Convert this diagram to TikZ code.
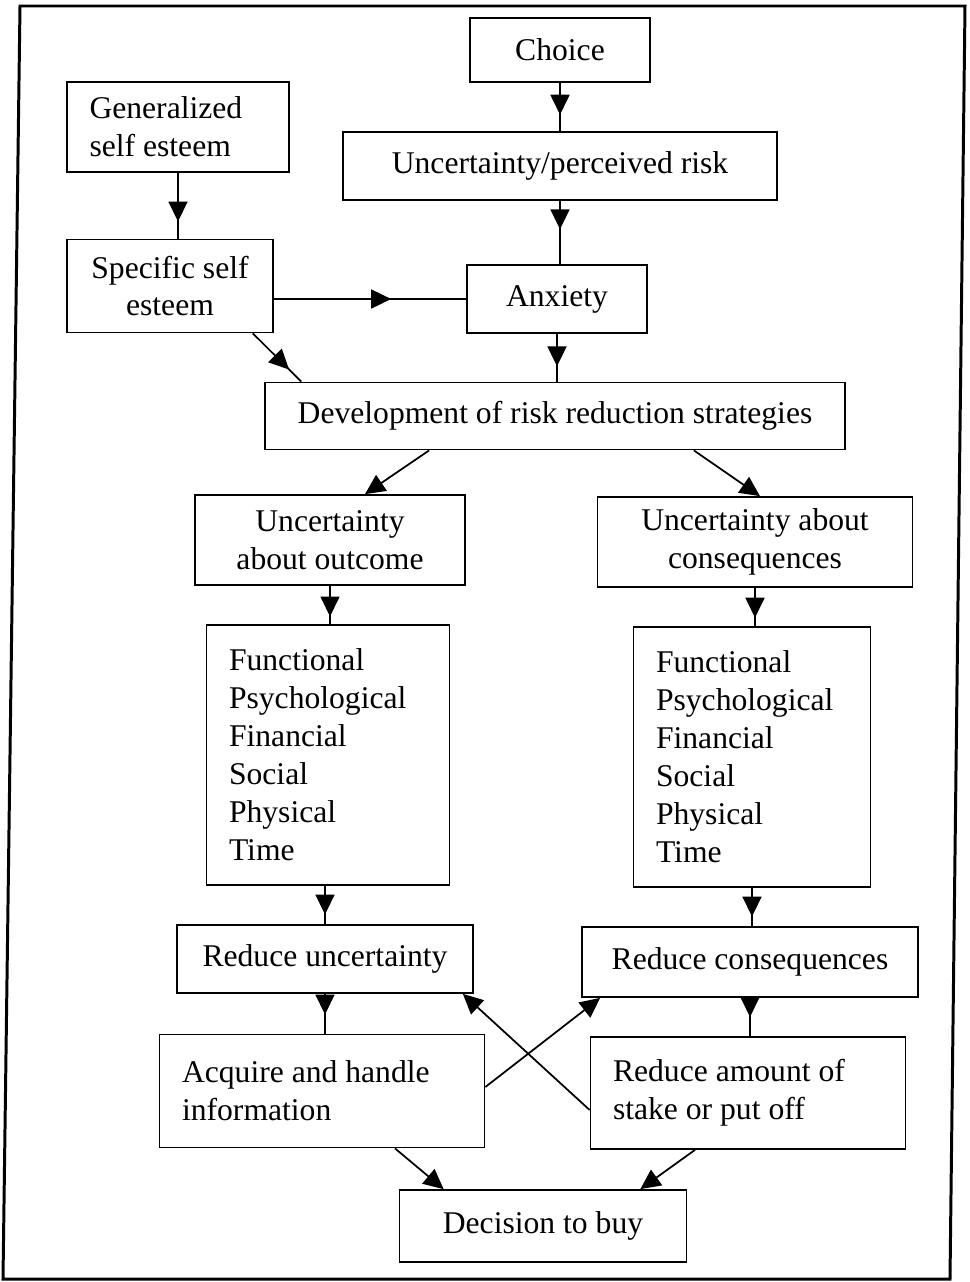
\documentclass[tikz,border=0pt]{standalone}
\usepackage{fontspec}
\setmainfont{Liberation Serif}
\usetikzlibrary{arrows.meta,decorations.markings}

\begin{document}
\begin{tikzpicture}[x=0.02cm,y=-0.02cm,line width=1pt,
    box/.style={rectangle,draw,font=\fontsize{18}{21.6}\selectfont,align=center,inner sep=0pt},
    listbox/.style={box,align=flush left,inner xsep=0.45cm,text width=#1},
    tip/.style={-{Triangle[length=0.4cm,width=0.38cm]}},
    midarrow/.style={postaction={decorate},decoration={markings,mark=at position #1 with {\arrow{Triangle[length=0.4cm,width=0.38cm]}}}}]
    \useasboundingbox (0,0) rectangle (970,1282);
    \draw[line width=1.7pt] (20,6) -- (965,6) -- (950,1279) -- (3,1279) -- cycle;

    % top part
    \node[box,minimum width=3.6cm,minimum height=1.28cm] (choice) at (560,50) {Choice};
    \node[box,minimum width=8.68cm,minimum height=1.36cm] (risk) at (560,166) {Uncertainty/perceived risk};
    \node[listbox=3.54cm,minimum height=1.8cm] (general) at (178,127) {Generalized\\self esteem};
    \node[box,minimum width=4.12cm,minimum height=1.86cm] (specific) at (170,286) {Specific self\\esteem};
    \node[box,minimum width=3.6cm,minimum height=1.36cm] (anxiety) at (557,299) {Anxiety};
    \node[box,minimum width=11.6cm,minimum height=1.34cm] (develop) at (555,416) {Development of risk reduction strategies};

    % two branches
    \node[box,minimum width=5.4cm,minimum height=1.8cm] (outcome) at (330,540) {Uncertainty\\about outcome};
    \node[box,minimum width=6.3cm,minimum height=1.8cm] (conseq) at (755,542) {Uncertainty about\\consequences};
    \node[listbox=3.96cm,minimum height=5.2cm] (typesL) at (328,755) {Functional\\Psychological\\Financial\\Social\\Physical\\Time};
    \node[listbox=3.84cm,minimum height=5.2cm] (typesR) at (752,757) {Functional\\Psychological\\Financial\\Social\\Physical\\Time};
    \node[box,minimum width=5.92cm,minimum height=1.36cm] (redunc) at (325,959) {Reduce uncertainty};
    \node[box,minimum width=6.72cm,minimum height=1.4cm] (redcon) at (750,962) {Reduce consequences};
    \node[listbox=5.6cm,minimum height=2.26cm] (acquire) at (322,1091) {Acquire and handle\\information};
    \node[listbox=5.4cm,minimum height=2.24cm] (stake) at (748,1093) {Reduce amount of\\stake or put off};
    \node[box,minimum width=5.74cm,minimum height=1.44cm] (decide) at (543,1226) {Decision to buy};

    % connectors
    \draw[midarrow=0.66] (choice.south) -- (risk.north);
    \draw[midarrow=0.74] (general.south) -- (general.south |- specific.north);
    \draw[midarrow=0.45] (risk.south) -- (risk.south |- anxiety.north);
    \draw[midarrow=0.61] (specific.east |- anxiety.west) -- (anxiety.west);
    \draw[midarrow=0.75] ([xshift=-0.42cm]specific.south east) -- ([xshift=0.74cm]develop.north west);
    \draw[midarrow=0.68] (anxiety.south) -- (anxiety.south |- develop.north);
    \draw[tip] ([xshift=3.3cm]develop.south west) -- ([xshift=0.7cm]outcome.north);
    \draw[tip] ([xshift=-3.04cm]develop.south east) -- ([xshift=0.1cm]conseq.north);
    \draw[midarrow=0.8] (outcome.south) -- (outcome.south |- typesL.north);
    \draw[midarrow=0.78] (conseq.south) -- (conseq.south |- typesR.north);
    \draw[midarrow=0.75] (typesL.south -| redunc.north) -- (redunc.north);
    \draw[midarrow=0.75] (typesR.south) -- (typesR.south |- redcon.north);
    \draw[midarrow=0.52] (redunc.south) -- (redunc.south |- acquire.north);
    \draw[midarrow=0.5] (redcon.south) -- (redcon.south |- stake.north);
    \draw[tip] ([yshift=0.08cm]acquire.east) -- ([xshift=0.38cm]redcon.south west);
    \draw[tip] ([yshift=-0.34cm]stake.west) -- ([xshift=-0.22cm]redunc.south east);
    \draw[tip] ([xshift=1.46cm]acquire.south) -- ([xshift=0.9cm]decide.north west);
    \draw[tip] ([xshift=-1.06cm]stake.south) -- ([xshift=-0.94cm]decide.north east);
\end{tikzpicture}
\end{document}
